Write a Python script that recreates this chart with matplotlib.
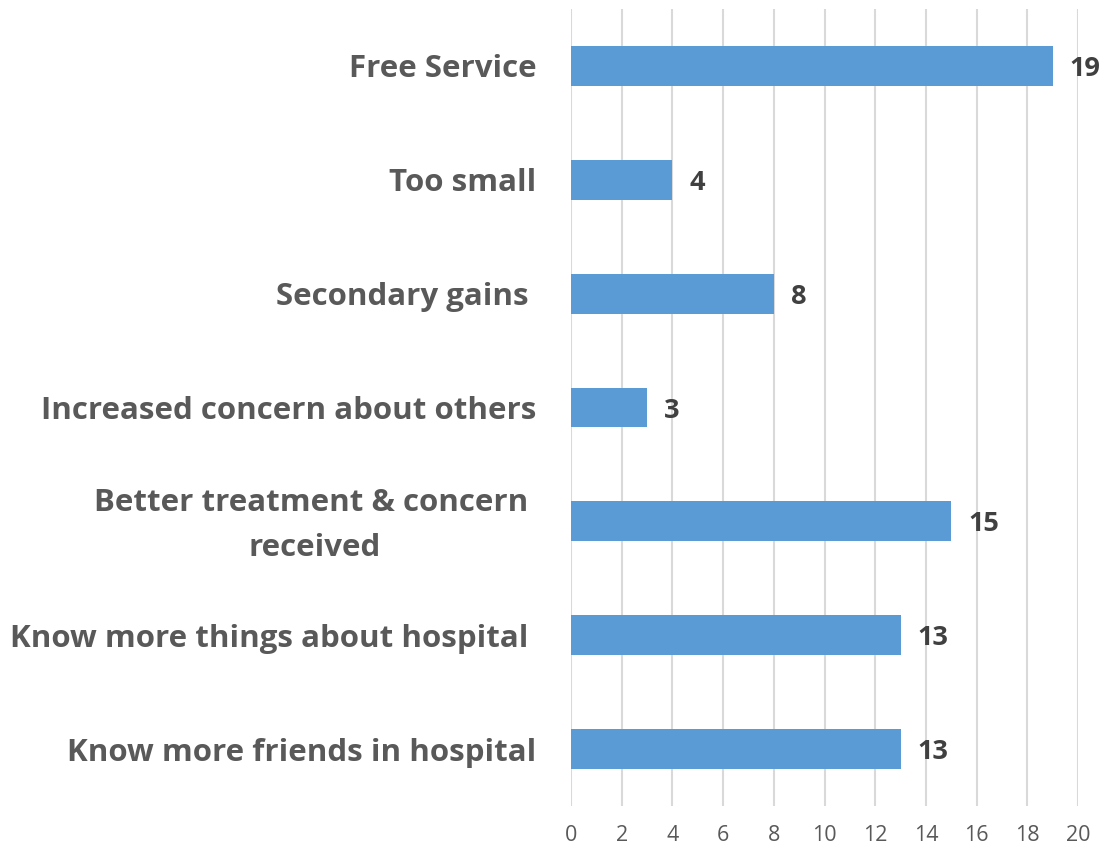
import matplotlib
matplotlib.use("Agg")
import matplotlib.pyplot as plt
import matplotlib.transforms as mtransforms

categories = [
    "Know more friends in hospital",
    "Know more things about hospital ",
    "Better treatment & concern \nreceived",
    "Increased concern about others",
    "Secondary gains ",
    "Too small",
    "Free Service",
]
counts = [13, 13, 15, 3, 8, 4, 19]
xticks = [0, 2, 4, 6, 8, 10, 12, 14, 16, 18, 20]

plt.rcParams["font.family"] = ["Open Sans", "DejaVu Sans"]

fig = plt.figure(figsize=(11.05, 8.49), dpi=100)
ax = fig.add_axes([571 / 1105, 43 / 849, 507 / 1105, 797 / 849])

ypos = list(range(len(categories)))
ax.barh(ypos, counts, height=0.35, color="#5B9BD5", zorder=3)

for y, v in zip(ypos, counts):
    ax.text(v + 0.68, y, str(v), va="center_baseline", ha="left",
            fontsize=19.5, fontweight="bold", color="#404040")

ax.set_xlim(0, 20)
ax.set_ylim(-0.5, len(categories) - 0.5)
ax.set_xticks(xticks)
ax.set_yticks(ypos)
ax.set_yticklabels(categories, fontsize=22.5, fontweight="bold", color="#595959",
                   multialignment="center", linespacing=1.65)
ax.tick_params(axis="x", length=0, labelsize=15.5, labelcolor="#595959", pad=14)
ax.tick_params(axis="y", length=0, pad=25)
ax.grid(axis="x", color="#D9D9D9", linewidth=1.5, zorder=0)
for s in ax.spines.values():
    s.set_visible(False)

# two-line label sits a little high in the original
for lbl in ax.get_yticklabels():
    if "\n" in lbl.get_text():
        lbl.set_transform(lbl.get_transform() +
                          mtransforms.ScaledTranslation(0, 0.07, fig.dpi_scale_trans))

fig.savefig("out.png", dpi=100)
